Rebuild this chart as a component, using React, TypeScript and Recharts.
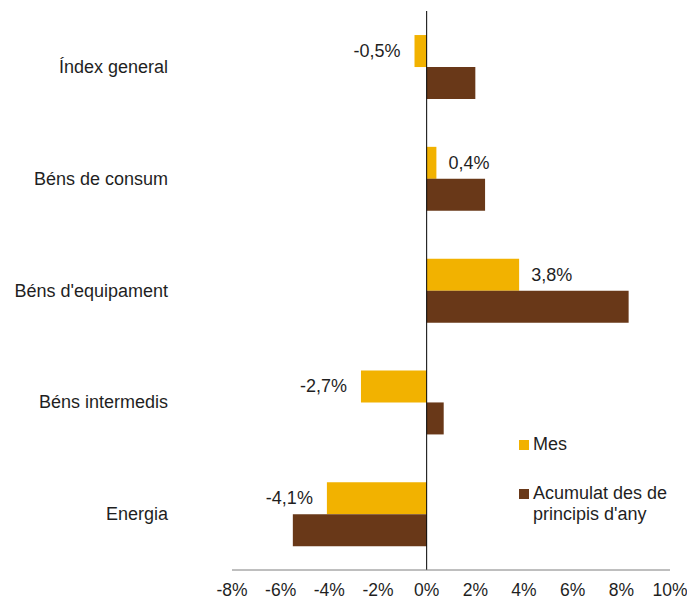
import { BarChart, Bar, XAxis, YAxis, LabelList, ReferenceLine } from 'recharts';

const categories = ['Índex general', 'Béns de consum', "Béns d'equipament", 'Béns intermedis', 'Energia'];
const mes = [-0.5, 0.4, 3.8, -2.7, -4.1];
const acumulat = [2.0, 2.4, 8.3, 0.7, -5.5];
const xTicks = [-8, -6, -4, -2, 0, 2, 4, 6, 8, 10];

const data = categories.map((name, i) => ({ name, mes: mes[i], acumulat: acumulat[i] }));

const FONT = '"Liberation Sans", Arial, sans-serif';
const TEXT = '#1f1f1f';
const GOLD = '#F2B200';
const BROWN = '#693818';

const fmt = (v: number) => `${v.toFixed(1).replace('.', ',')}%`;

const CategoryTick = (props: any) => {
  const { y, payload } = props;
  return (
    <text x={168} y={y} textAnchor="end" dominantBaseline="central" fontSize={18} fill={TEXT} fontFamily={FONT}>
      {payload.value}
    </text>
  );
};

const MesLabel = (props: any) => {
  const { x, y, width, height, value } = props;
  const left = Math.min(x, x + width);
  const right = Math.max(x, x + width);
  const neg = value < 0;
  return (
    <text
      x={neg ? left - 14 : right + 12}
      y={y + height / 2}
      textAnchor={neg ? 'end' : 'start'}
      dominantBaseline="central"
      fontSize={18}
      fill={TEXT}
      fontFamily={FONT}
    >
      {fmt(value)}
    </text>
  );
};

const LegendBox = () => (
  <div
    style={{
      position: 'absolute',
      left: 519,
      top: 434,
      fontFamily: FONT,
      fontSize: 18,
      color: TEXT,
      lineHeight: '21px',
    }}
  >
    <div style={{ display: 'flex', alignItems: 'flex-start' }}>
      <span style={{ width: 10, height: 10, background: GOLD, marginTop: 6, marginRight: 4, flexShrink: 0 }} />
      <span>Mes</span>
    </div>
    <div style={{ display: 'flex', alignItems: 'flex-start', marginTop: 28 }}>
      <span style={{ width: 10, height: 10, background: BROWN, marginTop: 6, marginRight: 4, flexShrink: 0 }} />
      <span>
        Acumulat des de
        <br />
        principis d'any
      </span>
    </div>
  </div>
);

export default function App() {
  return (
    <div style={{ position: 'absolute', left: 0, top: 0, width: 687, height: 599, background: '#fff' }}>
      <BarChart
        width={687}
        height={599}
        data={data}
        layout="vertical"
        margin={{ top: 11, right: 17, bottom: 0, left: 0 }}
        barCategoryGap="21.5%"
        barGap={0}
      >
        <XAxis
          type="number"
          domain={[-8, 10]}
          ticks={xTicks}
          interval={0}
          tickFormatter={(v: number) => `${v}%`}
          height={29}
          tickLine={false}
          tickMargin={8}
          axisLine={{ stroke: '#7f7f7f', strokeWidth: 1 }}
          tick={{ fontSize: 17.5, fill: TEXT, fontFamily: FONT }}
        />
        <YAxis
          type="category"
          dataKey="name"
          width={232}
          axisLine={false}
          tickLine={false}
          tick={<CategoryTick />}
        />
        <ReferenceLine x={0} stroke="#000" strokeWidth={1} />
        <Bar dataKey="mes" name="Mes" fill={GOLD} isAnimationActive={false}>
          <LabelList dataKey="mes" content={<MesLabel />} />
        </Bar>
        <Bar dataKey="acumulat" name="Acumulat des de principis d'any" fill={BROWN} isAnimationActive={false} />
      </BarChart>
      <LegendBox />
    </div>
  );
}
